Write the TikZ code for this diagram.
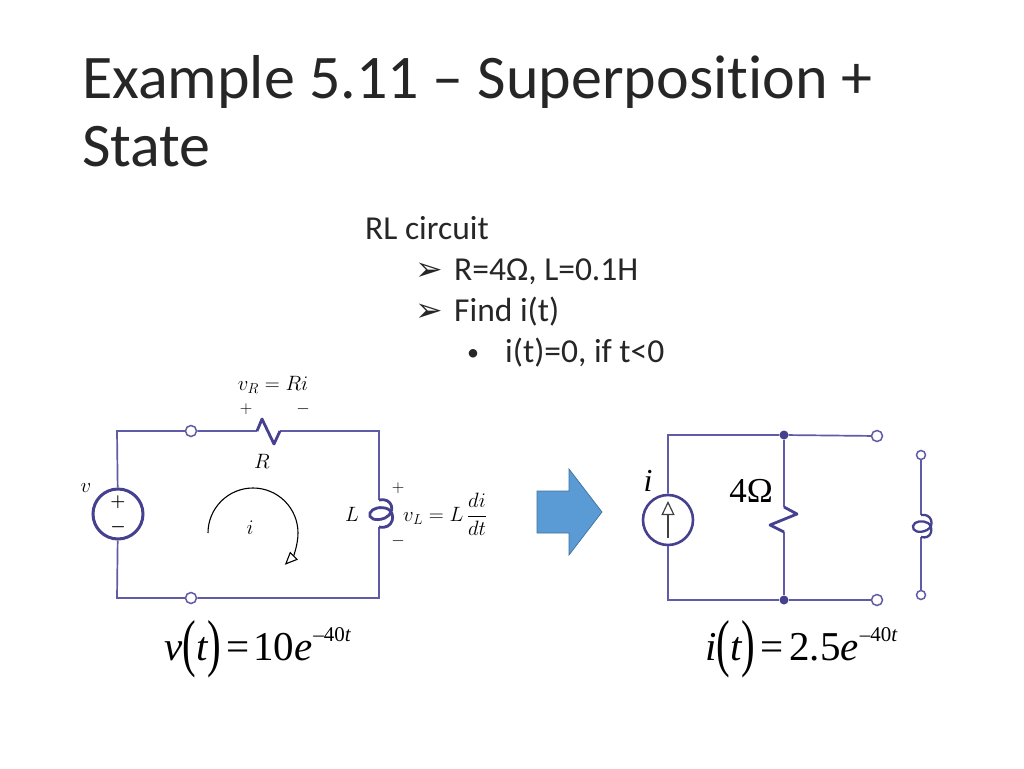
\documentclass[tikz,border=0pt]{standalone}
\usepackage{amsmath}
\usepackage{fontspec}
\setmainfont{Carlito}[Ligatures=NoCommon]
\newfontfamily\eqfont{Liberation Serif}
\newfontfamily\dingfont{DejaVu Sans}
\usetikzlibrary{arrows.meta}
\definecolor{wire}{HTML}{5F5BA6}
\definecolor{wiredark}{HTML}{45418F}
\definecolor{blockblue}{HTML}{5B9BD5}
\definecolor{blockedge}{HTML}{41719C}
\definecolor{titleink}{HTML}{262626}
\newcommand{\px}[1]{\fontsize{#1}{#1}\selectfont}
\newcommand{\bigparen}[1]{\raisebox{-4pt}{\scalebox{1}[1.55]{\upshape #1}}}
\tikzset{
  wireline/.style={draw=wire,line width=1.7pt},
  coil/.style={draw=wiredark,line width=2.8pt},
  terminal/.style={circle,draw=wire,fill=white,line width=1.5pt,inner sep=0pt,minimum size=11pt},
  junction/.style={circle,fill=wiredark,inner sep=0pt,minimum size=9pt},
  source/.style={circle,draw=wiredark,line width=3pt,fill=white,inner sep=0pt,minimum size=50pt},
  bodytext/.style={anchor=base west,inner sep=0pt,text=black!85,font=\px{33.5}},
  symb/.style={inner sep=0pt,font=\px{#1}},
  symb/.default=21.5,
  eqn/.style={anchor=base west,inner sep=0pt,font=\eqfont\px{41}}
}
\begin{document}
\begin{tikzpicture}[x=1pt,y=-1pt]
        \useasboundingbox[fill=white] (0,0) rectangle (1024,768);
        \node[anchor=base west,inner sep=0pt,text=titleink,font=\px{62}] (titleA) at (82,98) {Example 5.11 – Superposition +};
        \node[anchor=base west,inner sep=0pt,text=titleink,font=\px{62}] (titleB) at (82,166) {State};
        \node[bodytext] (rl) at (365,239) {RL circuit};
        \node[bodytext,font=\dingfont\px{33}] (bulA) at (415,280) {➢};
        \node[bodytext] (itemA) at (454,280) {R=4Ω, L=0.1H};
        \node[bodytext,font=\dingfont\px{33}] (bulB) at (415,321) {➢};
        \node[bodytext] (itemB) at (454,321) {Find i(t)};
        \node[bodytext,font=\px{24}] (bulC) at (467,360) {•};
        \node[bodytext] (itemC) at (505,362) {i(t)=0, if t<0};

        \coordinate (cornerTL) at (117,431);
        \coordinate (cornerBL) at (117,598);
        \coordinate (cornerTR) at (379,431);
        \coordinate (cornerBR) at (379,598);
        \coordinate (resIn) at (257,431);
        \coordinate (resOut) at (280,431);
        \coordinate (coilIn) at (379,500);
        \coordinate (coilOut) at (379,527);
        \node[source] (vs) at (118,514) {};
        \node[terminal] (termTL) at (191,431) {};
        \node[terminal] (termBL) at (191,598) {};
        \draw[wireline] (vs) -- (cornerTL) -- (termTL) -- (resIn);
        \draw[wireline] (resOut) -- (cornerTR) -- (coilIn);
        \draw[wireline] (coilOut) -- (cornerBR) -- (termBL) -- (cornerBL) -- (vs);
        \draw[coil,line join=round] (resIn) -- (262,419) -- (274,444) -- (resOut);
        \draw[coil] (coilIn) .. controls (392,497) and (397,512) .. (385,518) .. controls (375,522) and (368,518) .. (370,513) .. controls (372,508) and (381,506) .. (388,509) .. controls (396,513) and (394,530) .. (coilOut);
        \draw[black,line width=1.1pt,-{Triangle[open,length=13pt,width=11pt,fill=white]}] (208,533) arc[start angle=180,end angle=405,radius=45];
        \node[symb=19] (vsPlus) at (118,502) {$\boldsymbol{+}$};
        \node[symb=19] (vsMinus) at (118,527) {$\boldsymbol{-}$};
        \node[symb] (vLabel) at (86,488) {$v$};
        \node[symb] (iLabel) at (250,528) {$i$};
        \node[symb] (vrLabel) at (273,385) {$v_R = Ri$};
        \node[symb=19] (vrPlus) at (246,409) {$+$};
        \node[symb=19] (vrMinus) at (303,409) {$-$};
        \node[symb] (rLabel) at (262,461) {$R$};
        \node[symb] (lLabel) at (352,514) {$L$};
        \node[symb=19] (vlPlus) at (398,488) {$+$};
        \node[symb=19] (vlMinus) at (398,541) {$-$};
        \node[anchor=west,symb] (vlLabel) at (403,514) {$v_L = L\,\dfrac{di}{dt}$};

        \fill[blockblue,draw=blockedge,line width=.7pt] (537,491) -- (569,491) -- (569,469) -- (602,512) -- (569,555) -- (569,533) -- (537,533) -- cycle;

        \coordinate (cornerTL2) at (668,435);
        \coordinate (cornerBL2) at (668,600);
        \coordinate (resIn2) at (784,507);
        \coordinate (resOut2) at (784,532);
        \node[source,line width=2.6pt] (is) at (668,520) {};
        \node[junction] (juncT) at (784,435) {};
        \node[junction] (juncB) at (784,600) {};
        \node[terminal] (termT) at (877,436) {};
        \node[terminal] (termB) at (877,600) {};
        \node[terminal,minimum size=9pt] (termLT) at (921,455) {};
        \node[terminal,minimum size=9pt] (termLB) at (921,595) {};
        \coordinate (coilIn2) at (921,515);
        \coordinate (coilOut2) at (921,537);
        \draw[wireline] (is) -- (cornerTL2) -- (juncT) -- (termT);
        \draw[wireline] (is) -- (cornerBL2) -- (juncB) -- (termB);
        \draw[wireline] (juncT) -- (resIn2);
        \draw[wireline] (resOut2) -- (juncB);
        \draw[wireline] (termLT) -- (coilIn2);
        \draw[wireline] (coilOut2) -- (termLB);
        \draw[coil,line join=round] (resIn2) -- (797,514) -- (770,525) -- (resOut2);
        \draw[coil,line width=2.3pt] (coilIn2) .. controls (932,513) and (935,526) .. (927,530) .. controls (919,534) and (912,531) .. (913,526) .. controls (914,521) and (923,520) .. (928,523) .. controls (934,527) and (932,540) .. (coilOut2);
        \draw[black!75,line width=1.2pt,-{Triangle[open,length=14pt,width=13pt]}] (668,538) -- (668,501);
        \node[symb=30,font=\eqfont\itshape\px{32}] (iSrc) at (648,481) {i};
        \node[symb=30,font=\eqfont\px{35}] (rVal) at (751,491) {4Ω};

        \node[eqn] (eqLeft) at (164,660) {\itshape v\bigparen{(}t\bigparen{)}\hspace{5pt}{\upshape =\hspace{4pt}10}e\hspace{1pt}\raisebox{19pt}{\px{21}{\upshape –40}t}};
        \node[eqn] (eqRight) at (705,660) {\itshape i\bigparen{(}t\bigparen{)}\hspace{5pt}{\upshape =\hspace{6pt}2.5}e\hspace{1pt}\raisebox{19pt}{\px{21}{\upshape –40}t}};
\end{tikzpicture}
\end{document}
